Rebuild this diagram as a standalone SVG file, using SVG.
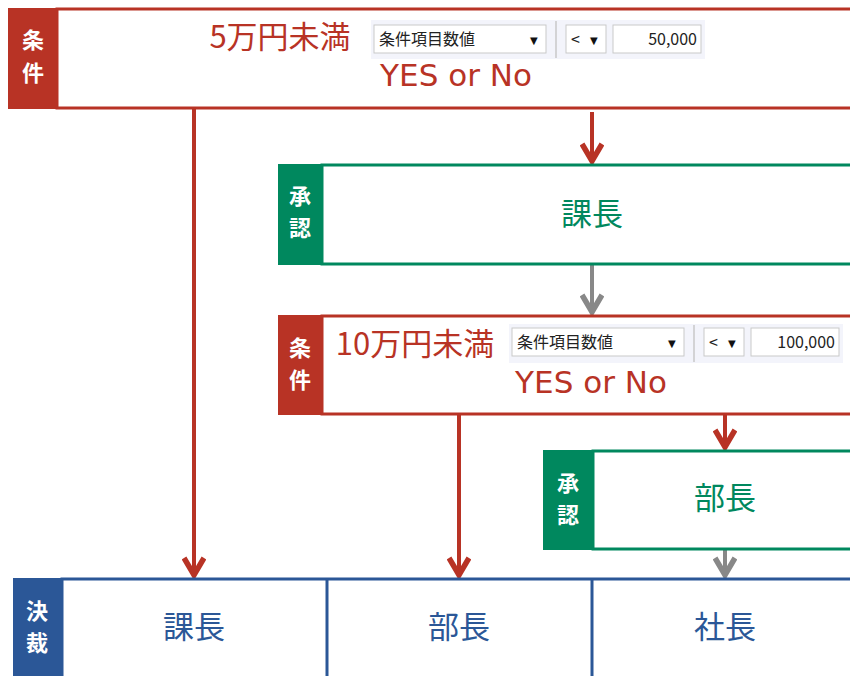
<svg xmlns="http://www.w3.org/2000/svg" width="850" height="676" viewBox="0 0 850 676">
<style>
.jp{font-family:"Noto Sans CJK JP","Noto Sans",sans-serif}
.lbl{font-family:"Noto Sans CJK JP",sans-serif;font-weight:bold;font-size:22px;fill:#fff;text-anchor:middle}
.red{fill:#B83325}
.grn{fill:#00885E}
.blu{fill:#2B5797}
.boxr{fill:#fff;stroke:#B83325;stroke-width:3}
.boxg{fill:#fff;stroke:#00885E;stroke-width:3}
.boxb{fill:#fff;stroke:#2B5797;stroke-width:3}
.main{font-family:"Noto Sans CJK JP",sans-serif;font-size:31px;text-anchor:middle}
.yn{font-family:"DejaVu Sans","Noto Sans",sans-serif;font-size:31px;fill:#B83325;text-anchor:middle}
.panel{fill:#F3F4FB}
.ctl{fill:#fff;stroke:#C9C9C9;stroke-width:1}
.ctext{font-family:"Noto Sans CJK JP",sans-serif;font-size:16px;fill:#222}
.tri{font-family:"DejaVu Sans",sans-serif;font-size:10px;fill:#111}
.sep{stroke:#C8C8C8;stroke-width:1.5}
.cr{stroke:#B83325;stroke-width:4;fill:none}
.cg{stroke:#888;stroke-width:4;fill:none}
</style>
<defs>
<marker id="ar" markerUnits="userSpaceOnUse" viewBox="-12 -22 24 24" refX="0" refY="0" markerWidth="24" markerHeight="24" orient="0">
<path d="M-10,-19 L0,-2 L10,-19" fill="none" stroke="#B83325" stroke-width="5.5"/>
</marker>
<marker id="ag" markerUnits="userSpaceOnUse" viewBox="-12 -22 24 24" refX="0" refY="0" markerWidth="24" markerHeight="24" orient="0">
<path d="M-10,-19 L0,-2 L10,-19" fill="none" stroke="#888" stroke-width="5.5"/>
</marker>
</defs>

<g id="connectors">
<path class="cr" d="M194,108 V577" marker-end="url(#ar)"/>
<path class="cr" d="M592,112 V163" marker-end="url(#ar)"/>
<path class="cg" d="M592,265 V314" marker-end="url(#ag)"/>
<path class="cr" d="M459,415 V577" marker-end="url(#ar)"/>
<path class="cr" d="M725,415 V449" marker-end="url(#ar)"/>
<path class="cg" d="M725,550 V577" marker-end="url(#ag)"/>
</g>

<g id="cond1">
<rect class="boxr" x="57" y="9" width="810" height="99"/>
<rect class="red" x="8" y="8" width="49" height="101"/>
<text class="lbl" x="33" y="48">条</text>
<text class="lbl" x="33" y="81">件</text>
<text class="main red" x="280" y="48">5万円未満</text>
<rect class="panel" x="371" y="20" width="334" height="39"/>
<rect class="ctl" x="374" y="25" width="172" height="28"/>
<text class="ctext" x="379" y="45">条件項目数値</text>
<text class="tri" x="530" y="44">▼</text>
<line class="sep" x1="556" y1="21" x2="556" y2="58"/>
<rect class="ctl" x="566" y="25" width="40" height="28"/>
<text class="ctext" x="571" y="45" font-size="17">&lt;</text>
<text class="tri" x="590" y="44">▼</text>
<rect class="ctl" x="613" y="25" width="88" height="28"/>
<text class="ctext" x="697" y="45" text-anchor="end">50,000</text>
<text class="yn" x="456" y="86">YES or No</text>
</g>

<g id="appr1">
<rect class="boxg" x="322" y="165" width="540" height="99"/>
<rect class="grn" x="278" y="164" width="45" height="101"/>
<text class="lbl" x="300" y="204">承</text>
<text class="lbl" x="300" y="236">認</text>
<text class="main grn" x="592" y="225">課長</text>
</g>

<g id="cond2">
<rect class="boxr" x="322" y="316" width="540" height="98"/>
<rect class="red" x="278" y="315" width="45" height="100"/>
<text class="lbl" x="300" y="356">条</text>
<text class="lbl" x="300" y="388">件</text>
<text class="main red" x="415" y="355">10万円未満</text>
<rect class="panel" x="509" y="324" width="334" height="39"/>
<rect class="ctl" x="512" y="328" width="172" height="28"/>
<text class="ctext" x="517" y="348">条件項目数値</text>
<text class="tri" x="668" y="347">▼</text>
<line class="sep" x1="694" y1="325" x2="694" y2="362"/>
<rect class="ctl" x="704" y="328" width="40" height="28"/>
<text class="ctext" x="709" y="348" font-size="17">&lt;</text>
<text class="tri" x="728" y="347">▼</text>
<rect class="ctl" x="751" y="328" width="88" height="28"/>
<text class="ctext" x="835" y="348" text-anchor="end">100,000</text>
<text class="yn" x="591" y="393">YES or No</text>
</g>

<g id="appr2">
<rect class="boxg" x="593" y="451" width="270" height="98"/>
<rect class="grn" x="543" y="450" width="50" height="100"/>
<text class="lbl" x="568" y="491">承</text>
<text class="lbl" x="568" y="523">認</text>
<text class="main grn" x="725" y="509">部長</text>
</g>

<g id="decision">
<rect class="boxb" x="62" y="579" width="800" height="120"/>
<line x1="327" y1="579" x2="327" y2="676" stroke="#2B5797" stroke-width="3"/>
<line x1="592" y1="579" x2="592" y2="676" stroke="#2B5797" stroke-width="3"/>
<rect class="blu" x="13" y="578" width="49" height="100"/>
<text class="lbl" x="37" y="619">決</text>
<text class="lbl" x="37" y="651">裁</text>
<text class="main blu" x="194" y="638">課長</text>
<text class="main blu" x="459" y="638">部長</text>
<text class="main blu" x="725" y="638">社長</text>
</g>
</svg>
